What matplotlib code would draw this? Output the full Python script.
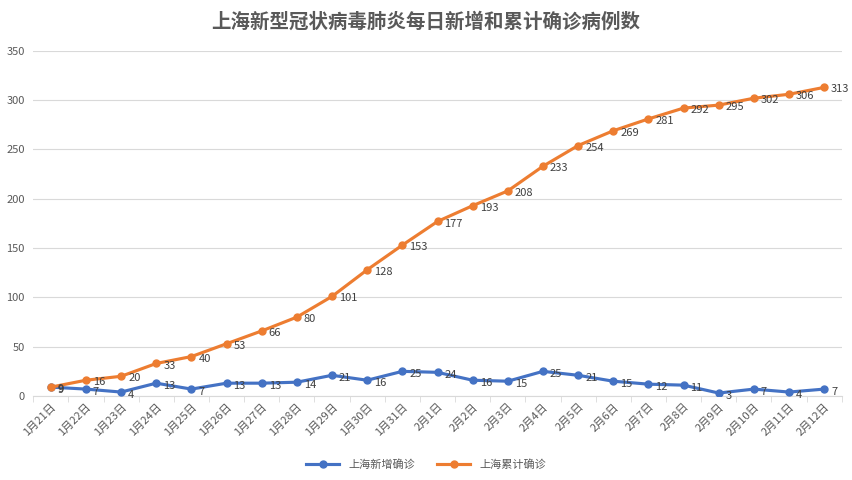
import matplotlib
matplotlib.use("Agg")
import matplotlib.pyplot as plt
import numpy as np

plt.rcParams['font.family'] = ['Noto Sans CJK SC', 'DejaVu Sans']

dates = ["1月21日", "1月22日", "1月23日", "1月24日", "1月25日", "1月26日", "1月27日", "1月28日",
         "1月29日", "1月30日", "1月31日", "2月1日", "2月2日", "2月3日", "2月4日", "2月5日",
         "2月6日", "2月7日", "2月8日", "2月9日", "2月10日", "2月11日", "2月12日"]
new_cases = [9, 7, 4, 13, 7, 13, 13, 14, 21, 16, 25, 24, 16, 15, 25, 21, 15, 12, 11, 3, 7, 4, 7]
cum_cases = [9, 16, 20, 33, 40, 53, 66, 80, 101, 128, 153, 177, 193, 208, 233, 254, 269, 281,
             292, 295, 302, 306, 313]
series_names = ["上海新增确诊", "上海累计确诊"]
title = "上海新型冠状病毒肺炎每日新增和累计确诊病例数"

blue = "#4472C4"
orange = "#ED7D31"
txt = "#595959"

fig = plt.figure(figsize=(8.52, 4.80), dpi=100)
ax = fig.add_axes([0.039, 0.175, 0.949, 0.719])
x = np.arange(len(dates))

ax.plot(x, new_cases, color=blue, lw=2.25, marker='o', ms=5, label=series_names[0], zorder=3)
ax.plot(x, cum_cases, color=orange, lw=2.25, marker='o', ms=5, label=series_names[1], zorder=4)

for xi, v in zip(x, new_cases):
    ax.annotate(str(v), (xi, v), xytext=(5, -2), textcoords='offset points',
                ha='left', va='center', fontsize=8, color="#404040", zorder=5)
for xi, v in zip(x, cum_cases):
    ax.annotate(str(v), (xi, v), xytext=(5, -1.5), textcoords='offset points',
                ha='left', va='center', fontsize=8, color="#404040", zorder=5)

ax.set_xlim(-0.5, len(dates) - 0.5)
ax.set_ylim(0, 350)
ax.set_yticks(np.arange(0, 351, 50))
ax.set_xticks(x)
ax.set_xticklabels(dates, rotation=45, ha='right', rotation_mode='anchor', fontsize=8, color=txt)
ax.tick_params(axis='y', length=0, labelsize=8, labelcolor=txt, pad=6)
ax.tick_params(axis='x', length=0, pad=4)
ax.set_xticks(np.arange(-0.5, len(dates), 1), minor=True)
ax.tick_params(axis='x', which='minor', length=4, color="#D9D9D9")
ax.grid(axis='y', color="#D9D9D9", lw=0.8)
ax.set_axisbelow(True)
for s in ['top', 'right', 'left']:
    ax.spines[s].set_visible(False)
ax.spines['bottom'].set_color("#D9D9D9")

fig.text(0.5, 0.955, title, ha='center', va='center', fontsize=14, color=txt, fontweight='bold')
fig.legend(loc='center', bbox_to_anchor=(0.5, 0.033), ncol=2, frameon=False, fontsize=8,
           labelcolor=txt, handlelength=3, columnspacing=2)

fig.savefig("out.png", dpi=100)
